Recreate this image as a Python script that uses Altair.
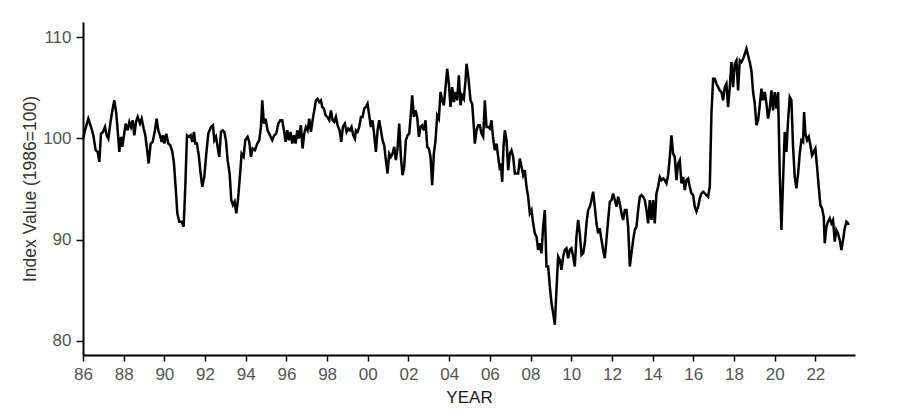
import altair as alt
import pandas as pd

years = [
1986.000,1986.098,1986.262,1986.393,1986.508,1986.623,1986.721,1986.803,1986.885,1986.983,
1987.081,1987.163,1987.245,1987.343,1987.442,1987.540,1987.638,1987.704,1987.786,1987.867,1987.933,
1988.015,1988.097,1988.195,1988.277,1988.359,1988.441,1988.523,1988.605,1988.687,1988.801,1988.883,1988.981,
1989.063,1989.145,1989.227,1989.325,1989.424,1989.538,1989.620,1989.702,1989.784,1989.866,1989.931,1989.997,
1990.095,1990.193,1990.292,1990.390,1990.472,1990.554,1990.636,1990.734,1990.849,1990.947,
1991.029,1991.111,1991.209,1991.291,1991.373,1991.455,1991.520,1991.602,1991.700,1991.782,1991.864,1991.963,
1992.061,1992.159,1992.290,1992.388,1992.454,1992.536,1992.617,1992.699,1992.781,1992.863,1992.945,
1993.027,1993.109,1993.207,1993.289,1993.371,1993.453,1993.535,1993.617,1993.699,1993.797,1993.895,1993.977,
1994.092,1994.174,1994.255,1994.337,1994.452,1994.567,1994.665,1994.747,1994.812,1994.894,1994.976,
1995.074,1995.189,1995.304,1995.402,1995.500,1995.599,1995.697,1995.795,1995.877,1995.959,
1996.041,1996.123,1996.205,1996.287,1996.368,1996.450,1996.532,1996.614,1996.712,1996.794,1996.876,1996.958,
1997.040,1997.122,1997.204,1997.286,1997.368,1997.450,1997.531,1997.613,1997.695,1997.761,1997.843,1997.925,
1998.007,1998.105,1998.187,1998.269,1998.350,1998.432,1998.514,1998.613,1998.695,1998.777,1998.874,1998.956,
1999.038,1999.120,1999.202,1999.284,1999.366,1999.415,1999.497,1999.579,1999.661,1999.743,1999.824,1999.906,1999.988,
2000.070,2000.152,2000.234,2000.316,2000.398,2000.480,2000.562,2000.644,2000.725,2000.807,2000.889,2000.971,
2001.053,2001.135,2001.217,2001.299,2001.381,2001.463,2001.545,2001.626,2001.708,2001.790,2001.872,2001.954,
2002.036,2002.118,2002.183,2002.265,2002.347,2002.429,2002.511,2002.593,2002.675,2002.757,2002.839,2002.920,
2003.002,2003.084,2003.166,2003.248,2003.330,2003.412,2003.494,2003.576,2003.657,2003.739,2003.821,2003.903,2003.985,
2004.067,2004.149,2004.231,2004.313,2004.395,2004.476,2004.558,2004.640,2004.722,2004.804,2004.853,2004.935,
2005.049,2005.131,2005.213,2005.262,2005.344,2005.426,2005.508,2005.590,2005.672,2005.754,2005.836,2005.918,
2006.000,2006.081,2006.163,2006.245,2006.327,2006.409,2006.475,2006.540,2006.606,2006.671,2006.737,2006.819,2006.901,2006.983,
2007.064,2007.146,2007.228,2007.310,2007.392,2007.474,2007.556,2007.638,2007.720,2007.801,2007.883,2007.965,
2008.047,2008.129,2008.211,2008.293,2008.375,2008.457,2008.538,2008.620,2008.702,2008.784,2008.866,2008.948,
2009.030,2009.112,2009.194,2009.275,2009.357,2009.439,2009.521,2009.603,2009.685,2009.767,2009.849,2009.931,
2010.013,2010.095,2010.176,2010.258,2010.340,2010.422,2010.504,2010.586,2010.668,2010.750,2010.832,2010.914,2010.996,
2011.077,2011.159,2011.241,2011.323,2011.405,2011.487,2011.569,2011.651,2011.733,2011.815,2011.897,2011.979,
2012.061,2012.143,2012.225,2012.307,2012.389,2012.470,2012.552,2012.634,2012.716,2012.798,2012.880,2012.962,
2013.044,2013.126,2013.208,2013.289,2013.371,2013.453,2013.535,2013.617,2013.699,2013.781,2013.863,2013.945,
2014.027,2014.108,2014.190,2014.272,2014.354,2014.436,2014.518,2014.600,2014.682,2014.764,2014.846,2014.927,
2015.009,2015.091,2015.173,2015.255,2015.337,2015.419,2015.501,2015.583,2015.665,2015.746,2015.828,2015.910,2015.992,
2016.074,2016.156,2016.238,2016.320,2016.402,2016.484,2016.565,2016.647,2016.729,2016.811,2016.893,2016.975,
2017.057,2017.139,2017.221,2017.303,2017.384,2017.466,2017.548,2017.630,2017.712,2017.794,2017.876,2017.958,
2018.039,2018.121,2018.203,2018.285,2018.367,2018.449,2018.531,2018.613,2018.695,2018.777,2018.858,2018.940,
2019.022,2019.104,2019.186,2019.268,2019.350,2019.432,2019.514,2019.596,2019.677,2019.759,2019.841,2019.923,
2020.005,2020.087,2020.169,2020.251,2020.333,2020.415,2020.496,2020.578,2020.660,2020.742,2020.824,2020.906,2020.988,
2021.070,2021.152,2021.234,2021.315,2021.397,2021.447,2021.512,2021.594,2021.676,2021.758,2021.840,2021.921,
2022.003,2022.085,2022.167,2022.249,2022.331,2022.413,2022.462,2022.544,2022.626,2022.708,2022.790,2022.872,2022.954,
2023.035,2023.117,2023.199,2023.281,2023.363,2023.445,2023.527,2023.609,2023.642,
]

values = [
99.88,100.80,101.95,101.13,100.31,98.83,98.67,97.68,100.47,100.64,
101.13,100.31,99.98,101.46,102.77,103.76,102.44,100.80,98.67,100.15,99.16,
100.31,101.46,100.80,101.62,101.13,101.79,100.31,101.62,102.12,101.46,101.95,100.97,
100.31,99.00,97.52,99.49,99.65,100.80,101.95,100.80,100.31,99.65,100.31,99.49,
100.47,99.49,99.32,98.67,97.52,95.22,92.59,91.77,91.77,91.28,
95.22,100.31,100.15,100.31,99.65,100.64,99.49,99.49,98.18,96.53,95.22,96.20,
98.50,100.47,101.13,101.30,99.82,100.15,99.16,98.18,100.64,100.80,100.64,
99.82,97.85,96.53,93.91,93.41,93.74,92.59,93.91,95.88,98.50,98.18,99.82,
100.15,99.65,98.18,99.00,98.83,99.49,99.82,101.13,103.76,101.46,101.95,
100.80,100.31,99.82,100.31,100.47,101.46,101.79,101.79,100.80,99.65,
100.80,99.82,100.64,99.49,100.31,99.49,100.80,99.98,101.30,99.00,100.47,101.13,
100.80,101.95,100.64,101.79,102.77,103.76,103.92,103.59,103.76,103.10,102.94,102.28,
102.12,101.79,102.77,101.79,101.62,102.12,101.30,100.80,99.65,101.13,101.46,100.64,
100.97,100.80,101.13,100.31,99.98,100.80,100.64,101.13,102.12,102.12,102.94,103.10,103.43,
102.28,101.13,101.79,100.31,98.67,100.80,101.79,100.80,99.82,99.32,97.85,96.53,
98.50,98.18,98.50,99.16,97.85,99.00,101.46,98.18,96.37,97.19,99.82,100.31,
100.47,102.44,104.25,102.12,102.77,102.12,100.15,101.13,101.30,100.80,101.79,99.16,
99.00,98.18,95.38,98.50,99.82,102.28,101.95,104.58,103.76,103.27,105.07,106.88,105.40,
103.10,105.07,103.59,104.58,103.76,106.22,103.27,104.25,103.92,105.73,107.37,106.22,
103.76,103.43,101.13,99.49,100.80,101.30,101.30,100.47,100.15,103.76,101.13,101.13,
100.97,101.79,99.98,98.83,99.49,98.18,97.19,97.52,95.71,99.16,100.80,99.82,96.86,98.50,
98.83,98.18,96.53,96.53,96.53,98.01,97.19,96.37,96.86,95.22,94.23,92.59,
92.92,91.61,90.62,90.29,88.98,89.64,88.65,91.28,92.92,87.34,87.34,85.37,
83.73,82.74,81.59,85.04,88.32,87.99,87.01,88.32,88.98,89.14,88.16,88.98,
89.14,88.32,87.34,90.29,91.94,90.62,88.49,88.65,89.64,91.61,92.92,93.25,93.91,
94.73,93.25,91.61,90.62,91.11,89.97,88.98,88.16,89.97,91.94,93.74,93.91,
94.56,93.91,93.25,94.23,93.58,92.59,91.94,92.92,92.92,91.28,87.34,88.65,
89.97,90.95,91.28,92.92,94.23,94.40,94.23,93.91,92.92,91.61,93.91,91.94,
93.91,91.61,94.56,95.22,96.20,95.88,96.04,95.88,95.55,96.37,98.18,100.31,
98.50,98.18,95.88,97.52,97.85,95.55,96.20,94.89,95.88,96.04,95.22,94.56,94.40,
93.25,92.76,93.25,94.07,94.56,94.73,94.56,94.40,94.23,95.22,102.44,105.89,
105.89,105.40,105.07,104.74,104.58,103.76,105.07,105.40,103.10,105.07,107.53,105.07,
107.37,107.70,104.74,107.70,107.53,107.86,108.36,108.85,108.19,107.53,106.71,104.58,
103.43,101.30,101.79,103.27,104.91,103.76,104.58,103.43,101.95,102.94,104.74,102.77,
104.58,102.94,104.58,96.53,90.95,95.88,100.64,98.67,101.79,104.09,103.76,99.16,96.20,
95.06,96.53,98.50,99.82,99.65,102.61,100.47,99.82,100.15,99.32,98.34,98.67,
99.00,97.19,95.22,93.41,93.08,92.26,89.64,91.28,91.77,92.10,91.61,91.94,89.80,
90.95,90.62,89.97,88.98,89.97,91.11,91.77,91.61,91.44,
]

x_ticks = list(range(1986, 2023, 2))
y_ticks = [80, 90, 100, 110]

df = pd.DataFrame({"year": years, "value": values})

tick_font = "Liberation Sans Narrow, Liberation Sans, Arial, sans-serif"
title_font = "Liberation Sans, Arial, sans-serif"

chart = alt.Chart(df).mark_line(color="black", strokeWidth=2.5).encode(
    x=alt.X("year:Q",
            scale=alt.Scale(domain=[1986, 2023.95], nice=False, zero=False),
            axis=alt.Axis(values=x_ticks, labelExpr="substring(toString(datum.value), 2, 4)",
                          title="YEAR", grid=False, domainColor="black", domainWidth=2,
                          tickColor="black", tickWidth=1.5, tickSize=6, labelPadding=5,
                          labelColor="#555555", labelFontSize=17, labelFont=tick_font,
                          titleFont=title_font, titleFontSize=17, titleFontWeight="normal",
                          titleColor="#1a1a1a", titlePadding=7, labelFlush=False)),
    y=alt.Y("value:Q",
            scale=alt.Scale(domain=[78.6, 111.5], nice=False, zero=False),
            axis=alt.Axis(values=y_ticks, title="Index Value (1986=100)", grid=False,
                          domainColor="black", domainWidth=2, tickColor="black", tickWidth=1.5,
                          tickSize=7, labelPadding=5, labelColor="#555555", labelFontSize=17,
                          labelFont=tick_font, titleFont=title_font,
                          titleFontSize=17.5, titleFontWeight="normal", titleColor="#333333",
                          titlePadding=3)),
).properties(
    width=772, height=333,
    padding={"left": 75, "top": 14, "right": 20, "bottom": 55},
    autosize=alt.AutoSizeParams(type="none"),
).configure_view(stroke=None)

chart.save("out.html", embed_options={"renderer": "svg", "actions": False})
